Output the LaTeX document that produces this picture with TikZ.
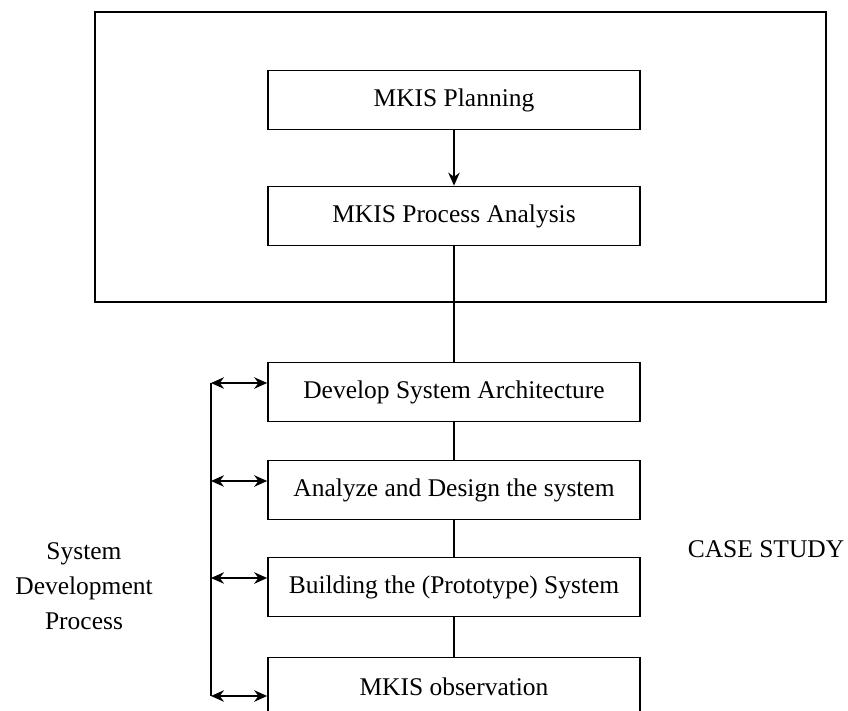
\documentclass[tikz,border=0pt]{standalone}
\usepackage{fontspec}
\setmainfont{Liberation Serif}
\usetikzlibrary{positioning,arrows.meta}

\begin{document}
\begin{tikzpicture}[
  x=0.02cm, y=-0.02cm,
  stage/.style={rectangle, draw, line width=1pt, minimum width=7.44cm, minimum height=1.18cm, font=\fontsize{14.5}{17}\selectfont},
  arrow/.style={-{Stealth[length=2.6mm, width=2.3mm]}, line width=1pt},
  biarrow/.style={{Stealth[length=2.6mm, width=2.3mm]}-{Stealth[length=2.6mm, width=2.3mm]}, line width=1pt},
  link/.style={line width=1pt},
  label/.style={font=\fontsize{14.5}{17}\selectfont, align=center},
]
\useasboundingbox (0,0) rectangle (848,710);
\clip (0,0) rectangle (848,710);

% === Case study frame ===
\draw[line width=1pt] (95,12) rectangle (826,302);
\node[stage] (plan) at (454,100) {MKIS Planning};
\node[stage] (procan) at (454,216) {MKIS Process Analysis};
\draw[arrow] (plan) -- (procan);

% === Development stages ===
\node[stage] (arch) at (454,392) {Develop System Architecture};
\node[stage] (design) at (454,490) {Analyze and Design the system};
\node[stage] (build) at (454,587) {Building the (Prototype) System};
\node[stage] (observe) at (454,687) {MKIS observation};
\draw[link] (procan) -- (arch);
\draw[link] (arch) -- (design);
\draw[link] (design) -- (build);
\draw[link] (build) -- (observe);

% === Feedback bar ===
\coordinate (b1) at (211,383);
\coordinate (b2) at (211,481);
\coordinate (b3) at (211,578);
\coordinate (b4) at (211,696);
\draw[link] (b1) -- (b4);
\draw[biarrow] (b1) -- (b1 -| arch.west);
\draw[biarrow] (b2) -- (b2 -| design.west);
\draw[biarrow] (b3) -- (b3 -| build.west);
\draw[biarrow] (b4) -- (b4 -| observe.west);

% === Labels ===
\node[label] (sdp) at (84,586) {System\\[3pt]Development\\[3pt]Process};
\node[label] (cs) at (766,549) {CASE STUDY};

\end{tikzpicture}
\end{document}
